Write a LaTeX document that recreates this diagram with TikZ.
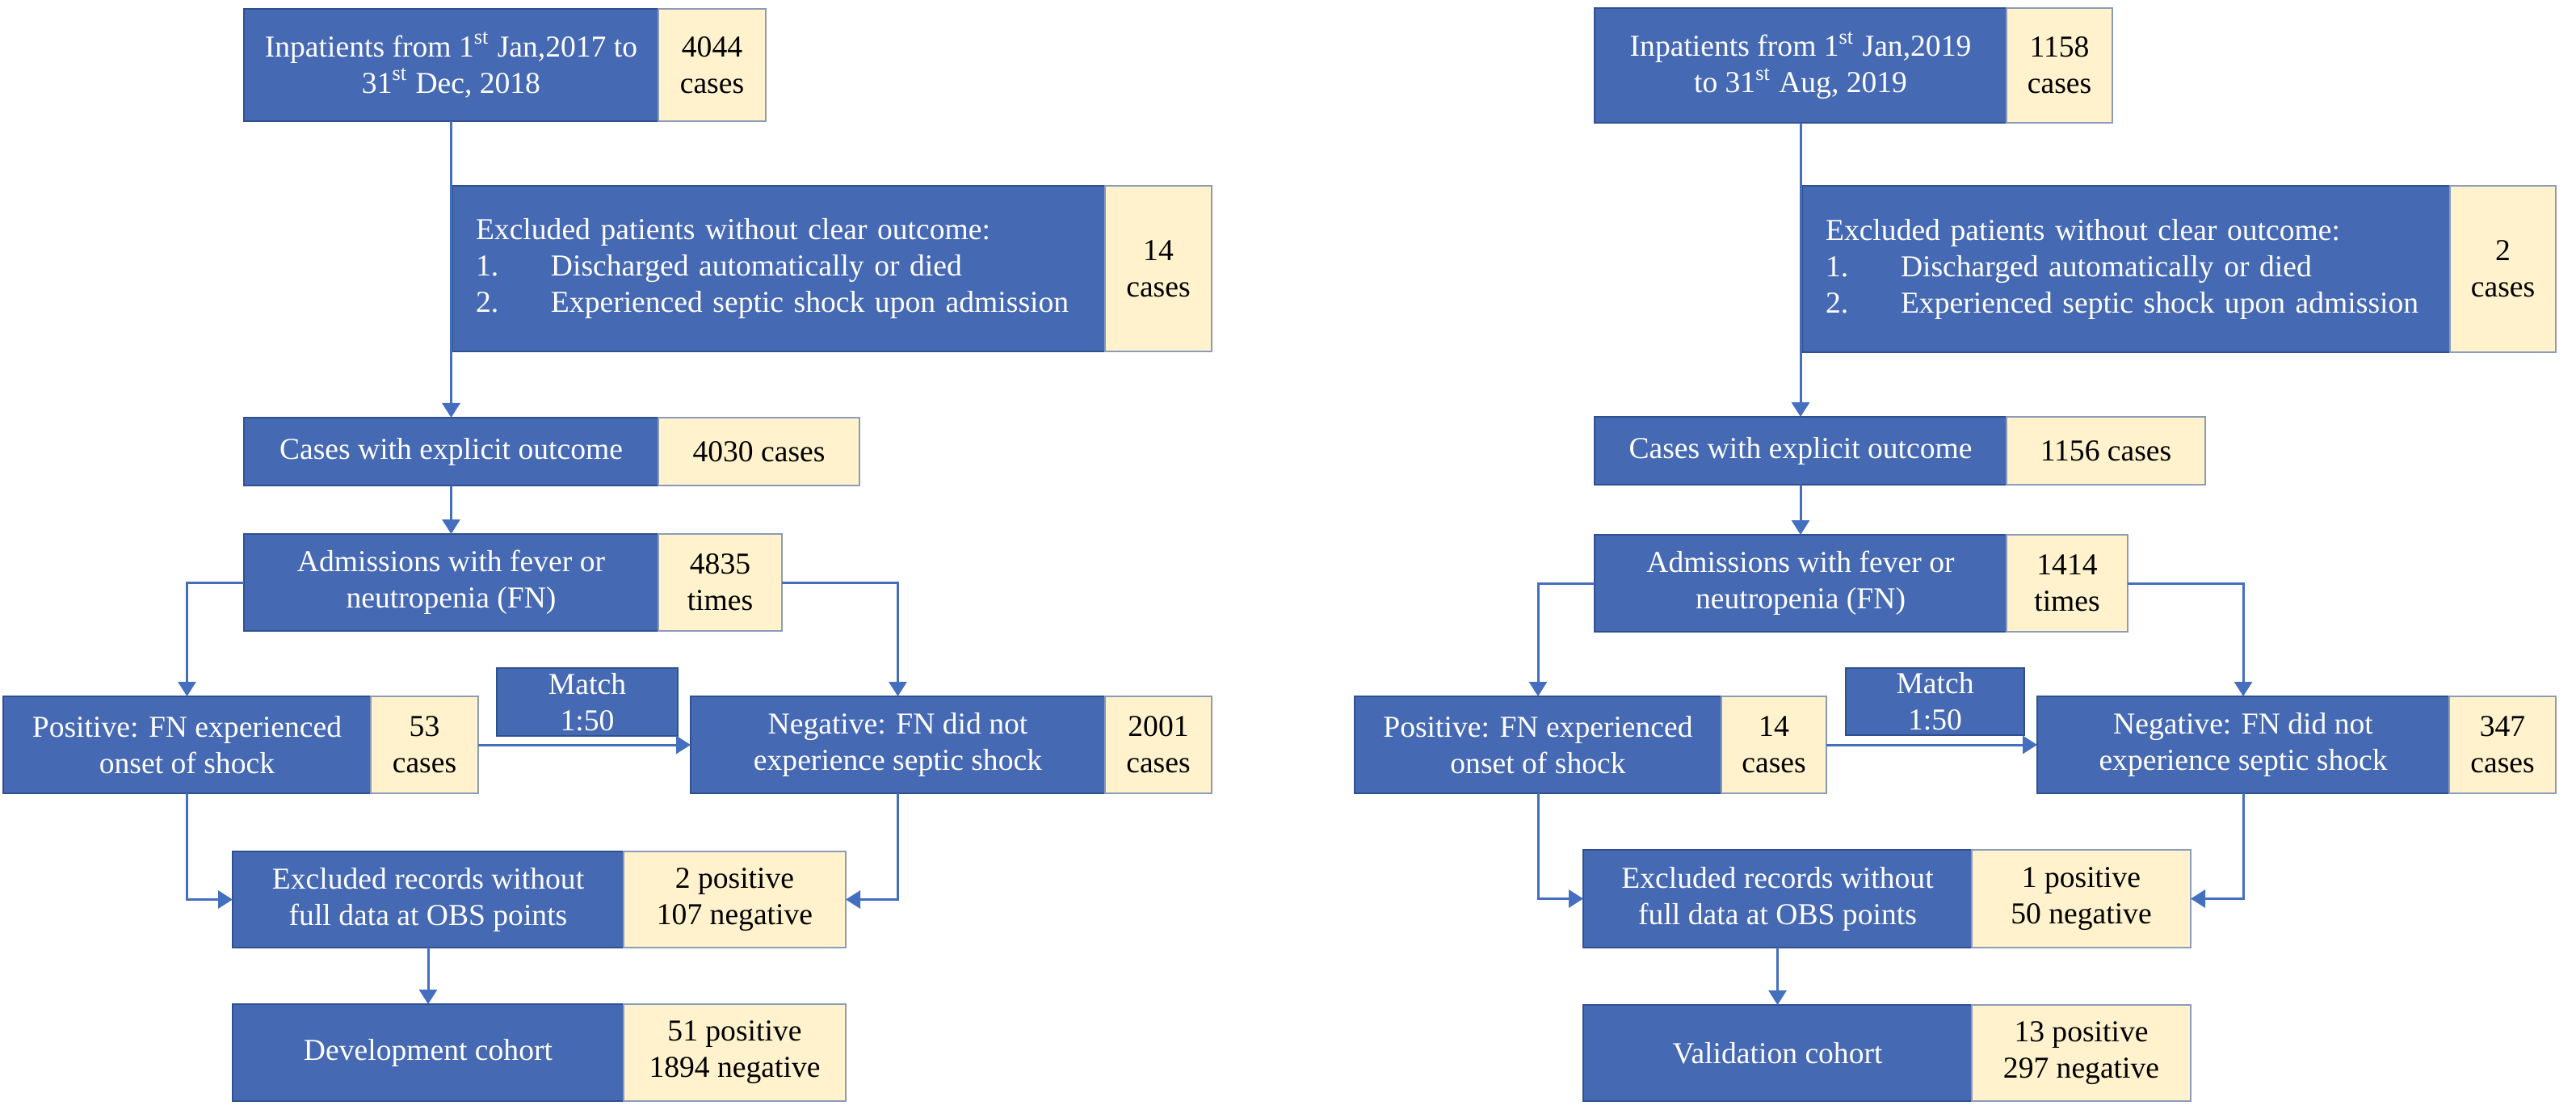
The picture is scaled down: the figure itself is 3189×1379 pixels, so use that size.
\documentclass[tikz,border=0pt]{standalone}
\usepackage{fontspec}
\setmainfont{Liberation Serif}
\usetikzlibrary{arrows.meta,positioning,calc}
\definecolor{bfill}{RGB}{70,105,180}
\definecolor{bdraw}{RGB}{47,80,143}
\definecolor{cfill}{RGB}{255,242,204}
\definecolor{cdraw}{RGB}{140,155,185}
\definecolor{lcol}{RGB}{68,110,190}
\begin{document}
\begin{tikzpicture}[x=0.25pt,y=-0.25pt,
  every node/.style={font=\fontsize{9.4pt}{11.25pt}\selectfont, inner sep=0pt, outer sep=0pt},
  bluebox/.style={rectangle, fill=bfill, draw=bdraw, line width=0.6pt, text=white, align=center, anchor=north west},
  creambox/.style={rectangle, fill=cfill, draw=cdraw, line width=0.5pt, text=black, align=center, anchor=north west},
  arr/.style={draw=lcol, line width=0.75pt, -{Triangle[length=4.5pt,width=5.5pt]}}
]
\useasboundingbox (0,0) rectangle (3189,1379);

% ================= LEFT PANEL =================
\node[bluebox, minimum width=128.25pt, minimum height=34.75pt] (b1) at (302,11)
  {Inpatients from 1\textsuperscript{st} Jan,2017 to\\31\textsuperscript{st} Dec, 2018};
\node[creambox, minimum width=33.25pt, minimum height=34.75pt] (b1c) at (b1.north east) {4044\\cases};

\node[bluebox, minimum width=202pt, minimum height=51.25pt, text width=187.5pt, align=left] (ex) at (560,230)
  {Excluded patients without clear outcome:\\
   \makebox[23.25pt][l]{1.}Discharged automatically or died\\
   \makebox[23.25pt][l]{2.}Experienced septic shock upon admission};
\node[creambox, minimum width=33pt, minimum height=51.25pt] (exc) at (ex.north east) {14\\cases};

\node[bluebox, minimum width=128.25pt, minimum height=21pt] (cs) at (302,517) {Cases with explicit outcome};
\node[creambox, minimum width=62.25pt, minimum height=21pt] (csc) at (cs.north east) {4030 cases};

\node[bluebox, minimum width=128.25pt, minimum height=30pt] (ad) at (302,661) {Admissions with fever or\\neutropenia (FN)};
\node[creambox, minimum width=38.25pt, minimum height=30pt] (adc) at (ad.north east) {4835\\times};

\node[bluebox, minimum width=113.75pt, minimum height=30pt] (po) at (4,862) {Positive: FN experienced\\onset of shock};
\node[creambox, minimum width=33.25pt, minimum height=30pt] (poc) at (po.north east) {53\\cases};

\node[bluebox, minimum width=56pt, minimum height=21pt] (ma) at (615,827) {Match\\1:50};

\node[bluebox, minimum width=128.25pt, minimum height=30pt] (ne) at (855,862) {Negative: FN did not\\experience septic shock};
\node[creambox, minimum width=33pt, minimum height=30pt] (nec) at (ne.north east) {2001\\cases};

\node[bluebox, minimum width=121pt, minimum height=29.75pt] (ex2) at (288,1054) {Excluded records without\\full data at OBS points};
\node[creambox, minimum width=68.75pt, minimum height=29.75pt] (ex2c) at (ex2.north east) {2 positive\\107 negative};

\node[bluebox, minimum width=121pt, minimum height=30pt] (dv) at (288,1243) {Development cohort};
\node[creambox, minimum width=68.75pt, minimum height=30pt] (dvc) at (dv.north east) {51 positive\\1894 negative};

\draw[arr] (b1.south) -- (cs.north);
\draw[arr] (cs.south) -- (ad.north);
\draw[arr] (ad.west) -| (po.north);
\draw[arr] (adc.east) -| (ne.north);
\draw[arr] (poc.east) -- (ne.west);
\draw[arr] (po.south) |- (ex2.west);
\draw[arr] (ne.south) |- (ex2c.east);
\draw[arr] (ex2.south) -- (dv.north);

% ================= RIGHT PANEL =================
\begin{scope}[xshift=418pt]
\node[bluebox, minimum width=127.5pt, minimum height=35.5pt] (rb1) at (302,10)
  {Inpatients from 1\textsuperscript{st} Jan,2019\\to 31\textsuperscript{st} Aug, 2019};
\node[creambox, minimum width=32.75pt, minimum height=35.5pt] (rb1c) at (rb1.north east) {1158\\cases};

\node[bluebox, minimum width=200.5pt, minimum height=51.5pt, text width=186pt, align=left] (rex) at (559,230)
  {Excluded patients without clear outcome:\\
   \makebox[23.25pt][l]{1.}Discharged automatically or died\\
   \makebox[23.25pt][l]{2.}Experienced septic shock upon admission};
\node[creambox, minimum width=32.75pt, minimum height=51.5pt] (rexc) at (rex.north east) {2\\cases};

\node[bluebox, minimum width=127.5pt, minimum height=21pt] (rcs) at (302,516) {Cases with explicit outcome};
\node[creambox, minimum width=61.5pt, minimum height=21pt] (rcsc) at (rcs.north east) {1156 cases};

\node[bluebox, minimum width=127.5pt, minimum height=30pt] (rad) at (302,662) {Admissions with fever or\\neutropenia (FN)};
\node[creambox, minimum width=37.5pt, minimum height=30pt] (radc) at (rad.north east) {1414\\times};

\node[bluebox, minimum width=113.5pt, minimum height=30pt] (rpo) at (5,862) {Positive: FN experienced\\onset of shock};
\node[creambox, minimum width=32.5pt, minimum height=30pt] (rpoc) at (rpo.north east) {14\\cases};

\node[bluebox, minimum width=55.25pt, minimum height=20.75pt] (rma) at (613,827) {Match\\1:50};

\node[bluebox, minimum width=127.5pt, minimum height=30pt] (rne) at (850,862) {Negative: FN did not\\experience septic shock};
\node[creambox, minimum width=33pt, minimum height=30pt] (rnec) at (rne.north east) {347\\cases};

\node[bluebox, minimum width=120.25pt, minimum height=30.25pt] (rex2) at (288,1052) {Excluded records without\\full data at OBS points};
\node[creambox, minimum width=67.75pt, minimum height=30.25pt] (rex2c) at (rex2.north east) {1 positive\\50 negative};

\node[bluebox, minimum width=120.25pt, minimum height=29.75pt] (rdv) at (288,1244) {Validation cohort};
\node[creambox, minimum width=67.75pt, minimum height=29.75pt] (rdvc) at (rdv.north east) {13 positive\\297 negative};

\draw[arr] (rb1.south) -- (rcs.north);
\draw[arr] (rcs.south) -- (rad.north);
\draw[arr] (rad.west) -| (rpo.north);
\draw[arr] (radc.east) -| (rne.north);
\draw[arr] (rpoc.east) -- (rne.west);
\draw[arr] (rpo.south) |- (rex2.west);
\draw[arr] (rne.south) |- (rex2c.east);
\draw[arr] (rex2.south) -- (rdv.north);
\end{scope}
\end{tikzpicture}
\end{document}
